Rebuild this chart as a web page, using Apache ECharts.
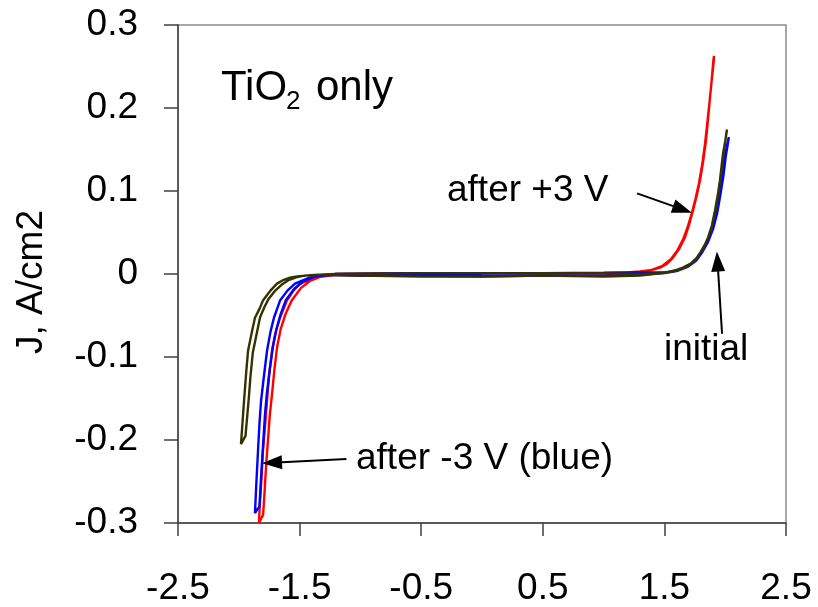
<!DOCTYPE html>
<html><head><meta charset="utf-8">
<script src="https://cdn.jsdelivr.net/npm/echarts@6/dist/echarts.min.js"></script>
<style>html,body{margin:0;padding:0;background:#fff}#c{width:818px;height:607px}</style>
</head><body><div id="c"></div>
<script>
// ---- data ----
const xTickLabels = ['-2.5', '-1.5', '-0.5', '0.5', '1.5', '2.5'];
const yTickLabels = ['-0.3', '-0.2', '-0.1', '0', '0.1', '0.2', '0.3'];

// "after +3 V" (red)
const afterPlusX = [0, 0.5, 1.0, 1.2, 1.30, 1.40, 1.464, 1.52, 1.571, 1.62, 1.669, 1.70, 1.735, 1.765, 1.793, 1.82, 1.842, 1.86, 1.875, 1.89, 1.905, 1.908,
  1.903, 1.888, 1.872, 1.855, 1.835, 1.812, 1.785, 1.755, 1.725, 1.69, 1.655, 1.605, 1.555, 1.48, 1.38, 1.25, 1.0, 0.5, 0, -0.5, -1.0,
  -1.2, -1.373, -1.497, -1.55, -1.604, -1.661, -1.70, -1.727, -1.75, -1.768, -1.785, -1.801, -1.815, -1.828, -1.834,
  -1.80, -1.787, -1.775, -1.76, -1.745, -1.727, -1.707, -1.685, -1.655, -1.615, -1.565, -1.49, -1.41, -1.32, -1.2, -0.5, 0];
const afterPlusY = [0.001, 0.001, 0.001, 0.002, 0.003, 0.005, 0.0077, 0.012, 0.0198, 0.03, 0.044, 0.058, 0.0766, 0.094, 0.113, 0.137, 0.161, 0.188, 0.213, 0.235, 0.255, 0.2626,
  0.258, 0.232, 0.208, 0.185, 0.158, 0.133, 0.11, 0.09, 0.073, 0.056, 0.042, 0.028, 0.018, 0.0095, 0.004, 0.001, -0.002, -0.002, -0.003, -0.002, -0.002,
  -0.001, -0.0043, -0.0116, -0.02, -0.032, -0.0527, -0.072, -0.0925, -0.12, -0.153, -0.185, -0.213, -0.25, -0.28, -0.3,
  -0.29, -0.26, -0.23, -0.2, -0.17, -0.145, -0.115, -0.088, -0.066, -0.048, -0.032, -0.017, -0.008, -0.003, 0.0, 0.001, 0.001];

// "after -3 V" (blue)
const afterMinusX = [0, 0.5, 1.0, 1.3, 1.5, 1.6, 1.67, 1.73, 1.78, 1.83, 1.87, 1.905, 1.93, 1.955, 1.972, 1.995, 2.015, 2.03,
  2.025, 2.005, 1.985, 1.96, 1.935, 1.9, 1.86, 1.81, 1.76, 1.69, 1.6, 1.5, 1.2, 0.5, 0, -0.5, -1.0,
  -1.3, -1.414, -1.538, -1.60, -1.661, -1.711, -1.74, -1.768, -1.795, -1.817, -1.83, -1.842, -1.855, -1.867,
  -1.83, -1.815, -1.80, -1.785, -1.77, -1.745, -1.72, -1.69, -1.655, -1.615, -1.545, -1.47, -1.37, -1.2, -0.5, 0];
const afterMinusY = [0.001, 0.001, 0.0015, 0.002, 0.002, 0.004, 0.0077, 0.013, 0.0198, 0.031, 0.044, 0.058, 0.0766, 0.096, 0.113, 0.14, 0.155, 0.165,
  0.16, 0.142, 0.118, 0.095, 0.074, 0.054, 0.039, 0.026, 0.016, 0.0085, 0.0035, 0.001, -0.002, -0.002, -0.002, -0.002, -0.002,
  -0.001, -0.004, -0.0116, -0.02, -0.032, -0.0527, -0.07, -0.0925, -0.125, -0.153, -0.18, -0.213, -0.25, -0.288,
  -0.28, -0.24, -0.205, -0.17, -0.145, -0.115, -0.088, -0.066, -0.048, -0.032, -0.018, -0.009, -0.003, 0.0, 0.001, 0.0];

// "initial" (dark olive)
const initialX = [0, 0.5, 1.0, 1.3, 1.45, 1.52, 1.6, 1.653, 1.72, 1.768, 1.82, 1.859, 1.89, 1.916, 1.94, 1.957, 1.982, 2.0, 2.015,
  2.01, 1.99, 1.965, 1.945, 1.92, 1.885, 1.85, 1.80, 1.75, 1.68, 1.60, 1.5, 1.3, 1.0, 0.5, 0, -0.5, -1.0,
  -1.3, -1.45, -1.52, -1.579, -1.63, -1.686, -1.74, -1.801, -1.83, -1.867, -1.89, -1.924, -1.94, -1.957, -1.97, -1.982,
  -1.945, -1.93, -1.918, -1.905, -1.885, -1.85, -1.825, -1.79, -1.755, -1.70, -1.64, -1.585, -1.53, -1.46, -1.38, -1.2, -0.5, 0];
const initialY = [0.001, 0.001, 0.001, 0.0, 0.001, 0.002, 0.005, 0.0077, 0.013, 0.0198, 0.031, 0.044, 0.058, 0.0766, 0.096, 0.113, 0.145, 0.160, 0.174,
  0.17, 0.148, 0.118, 0.097, 0.075, 0.054, 0.040, 0.027, 0.016, 0.0085, 0.004, 0.0015, -0.002, -0.003, -0.002, -0.003, -0.003, -0.002,
  -0.001, -0.002, -0.003, -0.0043, -0.007, -0.0116, -0.02, -0.032, -0.042, -0.0527, -0.068, -0.0925, -0.12, -0.153, -0.18, -0.205,
  -0.195, -0.17, -0.15, -0.125, -0.095, -0.07, -0.052, -0.04, -0.03, -0.02, -0.012, -0.007, -0.004, -0.002, -0.001, 0.0, 0.001, 0.001];

// ---- chart ----
const font = '"Liberation Sans", Arial, sans-serif';
const zip = (xs, ys) => xs.map((x, i) => [x, ys[i]]);
const axisColor = '#404040';

const chart = echarts.init(document.getElementById('c'));

function lineSeries(name, xs, ys, color, extra) {
  return Object.assign({
    name, type: 'line', data: zip(xs, ys), showSymbol: false, symbol: 'none',
    lineStyle: { color, width: 2.4 }, itemStyle: { color }, clip: true, silent: true
  }, extra || {});
}

const arrowStyle = { color: '#000', width: 2, type: 'solid' };
const arrows = [
  [{ coord: [1.275, 0.0971] }, { coord: [1.649, 0.0778] }],
  [{ coord: [1.974, -0.072] }, { coord: [1.937, 0.0150] }],
  [{ coord: [-1.115, -0.2229] }, { coord: [-1.727, -0.2273] }]
];

chart.setOption({
  animation: false,
  backgroundColor: '#fff',
  grid: { left: 178, right: 32, top: 25, bottom: 84, show: true, borderColor: '#8c8c8c', borderWidth: 1.5,
    backgroundColor: 'transparent', containLabel: false, outerBoundsMode: 'none' },
  xAxis: {
    type: 'value', min: -2.5, max: 2.5, interval: 1,
    axisLine: { show: true, onZero: false, lineStyle: { color: axisColor, width: 1.5 } },
    axisTick: { show: true, inside: false, length: 13, lineStyle: { color: axisColor, width: 1.5 } },
    axisLabel: { fontSize: 37, color: '#000', fontFamily: font, margin: 47, showMinLabel: true, showMaxLabel: true,
      formatter: v => xTickLabels[Math.round(v + 2.5)] },
    splitLine: { show: false }
  },
  yAxis: {
    type: 'value', min: -0.3, max: 0.3, interval: 0.1,
    name: 'J, A/cm2', nameLocation: 'middle', nameGap: 128,
    nameTextStyle: { fontSize: 37, color: '#000', fontFamily: font, padding: [0, 16, 0, 0] },
    axisLine: { show: true, onZero: false, lineStyle: { color: axisColor, width: 1.5 } },
    axisTick: { show: true, inside: false, length: 14, lineStyle: { color: axisColor, width: 1.5 } },
    axisLabel: { fontSize: 37, color: '#000', fontFamily: font, margin: 40, showMinLabel: true, showMaxLabel: true,
      formatter: v => yTickLabels[Math.round(v * 10) + 3] },
    splitLine: { show: false }
  },
  series: [
    lineSeries('after +3 V', afterPlusX, afterPlusY, '#ff0000', { z: 2 }),
    lineSeries('after -3 V', afterMinusX, afterMinusY, '#0000ff', { z: 3 }),
    lineSeries('initial', initialX, initialY, '#333300', {
      z: 4,
      markLine: {
        silent: true, animation: false,
        symbol: ['none', 'triangle'], symbolSize: [14, 20],
        lineStyle: arrowStyle, itemStyle: { color: '#000' },
        label: { show: false },
        data: arrows
      }
    })
  ],
  graphic: [
    { type: 'text', x: 221, y: 88, style: { text: 'TiO', font: '42px ' + font, fill: '#000', verticalAlign: 'middle' } },
    { type: 'text', x: 286, y: 102, style: { text: '2', font: '26px ' + font, fill: '#000', verticalAlign: 'middle' } },
    { type: 'text', x: 316, y: 88, style: { text: 'only', font: '42px ' + font, fill: '#000', verticalAlign: 'middle' } },
    { type: 'text', x: 447, y: 191, style: { text: 'after +3 V', font: '37px ' + font, fill: '#000', verticalAlign: 'middle' } },
    { type: 'text', x: 664, y: 350, style: { text: 'initial', font: '37px ' + font, fill: '#000', verticalAlign: 'middle' } },
    { type: 'text', x: 356, y: 459, style: { text: 'after -3 V (blue)', font: '37px ' + font, fill: '#000', verticalAlign: 'middle' } }
  ]
});
</script>
</body></html>
